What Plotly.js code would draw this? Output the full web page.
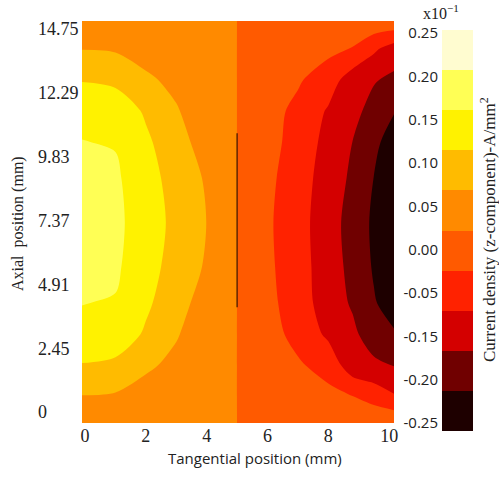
<!DOCTYPE html>
<html><head><meta charset="utf-8">
<script src="https://cdn.plot.ly/plotly-3.0.1.min.js"></script>
<style>html,body{margin:0;padding:0;background:#fff}#chart{width:499px;height:477px}</style>
</head><body><div id="chart"></div>
<script>
// Tangential grid positions (mm): left conductor half and right conductor half
const tangentialLeft = [-0.1, 1, 2, 3, 4, 4.98];
const tangentialRight = [5.02, 6, 7, 8, 8.8, 9.5, 10.16];
// Axial grid positions (mm)
const axialPos = [-0.42, 0.6, 1.8, 3.0, 4.2, 5.6, 7.3, 9.0, 10.4, 11.6, 12.8, 14.0, 15.06];
// Current density (x10^-1 A/mm^2), rows follow axialPos
const densityLeft = [
  [0.025, 0.022, 0.016, 0.011, 0.006, 0.004],
  [0.048, 0.044, 0.030, 0.020, 0.010, 0.007],
  [0.097, 0.090, 0.058, 0.038, 0.015, 0.010],
  [0.138, 0.128, 0.094, 0.054, 0.020, 0.012],
  [0.151, 0.147, 0.108, 0.072, 0.025, 0.015],
  [0.185, 0.158, 0.117, 0.083, 0.044, 0.028],
  [0.190, 0.162, 0.123, 0.088, 0.0495, 0.030],
  [0.185, 0.158, 0.117, 0.083, 0.044, 0.028],
  [0.151, 0.147, 0.108, 0.072, 0.025, 0.015],
  [0.138, 0.128, 0.094, 0.054, 0.020, 0.012],
  [0.097, 0.090, 0.058, 0.038, 0.015, 0.010],
  [0.048, 0.044, 0.030, 0.020, 0.010, 0.007],
  [0.025, 0.022, 0.016, 0.011, 0.006, 0.004]
];
const densityRight = [
  [-0.005, -0.008, -0.010, -0.012, -0.012, -0.008, -0.008],
  [-0.012, -0.018, -0.026, -0.038, -0.049, -0.070, -0.095],
  [-0.017, -0.027, -0.0445, -0.0665, -0.1303, -0.140, -0.1516],
  [-0.020, -0.033, -0.0634, -0.1097, -0.140, -0.175, -0.195],
  [-0.022, -0.037, -0.074, -0.126, -0.1555, -0.196, -0.222],
  [-0.024, -0.040, -0.080, -0.125, -0.165, -0.205, -0.232],
  [-0.025, -0.042, -0.083, -0.1255, -0.172, -0.208, -0.235],
  [-0.024, -0.039, -0.0757, -0.1243, -0.1586, -0.201, -0.228],
  [-0.022, -0.036, -0.0652, -0.1179, -0.1505, -0.188, -0.224],
  [-0.020, -0.033, -0.0613, -0.1053, -0.135, -0.1678, -0.197],
  [-0.017, -0.027, -0.0444, -0.075, -0.1263, -0.146, -0.1607],
  [-0.013, -0.020, -0.028, -0.038, -0.052, -0.091, -0.122],
  [-0.006, -0.010, -0.013, -0.017, -0.020, -0.013, -0.013]
];
// Contour levels and band colours (lowest band first)
const levelStart = -0.25, levelEnd = 0.25, levelStep = 0.05;
const bandColors = ['#1e0000', '#700000', '#d40000', '#ff2200', '#ff5a00',
                    '#ff8a00', '#ffbb00', '#fff200', '#ffff55', '#fffcd0'];
// Tick labels
const xTickVals = [0, 2, 4, 6, 8, 10];
const yTickVals = [0, 2.45, 4.91, 7.37, 9.83, 12.29, 14.75];
const yTickText = ['0', '2.45', '4.91', '7.37', '9.83', '12.29', '14.75'];
const cbTickText = ['0.25', '0.20', '0.15', '0.10', '0.05', '0.00', '-0.05', '-0.15', '-0.20', '-0.25'];
// Interface line between the two halves
const boundaryX = [5.0, 5.0];
const boundaryY = [4.04, 10.74];

const W = 499, H = 477;
const px = v => v / W, py = v => 1 - v / H;

const xGrid = tangentialLeft.concat(tangentialRight);
const zGrid = densityLeft.map((row, i) => row.concat(densityRight[i]));

const nLevels = Math.round((levelEnd - levelStart) / levelStep) + 1; // 11
const colorscale = [[0, bandColors[0]]];
bandColors.forEach((c, k) => {
  colorscale.push([(k + 0.5) / nLevels, c]);
  colorscale.push([(k + 1.5) / nLevels, c]);
});
colorscale.push([1, bandColors[bandColors.length - 1]]);

const bandMids = bandColors.map((c, k) => levelStart + levelStep * (k + 0.5));

const serif = 'Liberation Serif, Times New Roman, serif';
const sans = 'Open Sans, Liberation Sans, sans-serif';
const txt = '#222';

// colorbar tick positions (evenly spread labels)
const cbTop = 0.2463, cbBot = -0.2401;
const cbTickVals = cbTickText.map((t, i) => cbTop - i * (cbTop - cbBot) / (cbTickText.length - 1));

const traces = [
  {
    type: 'contour', x: xGrid, y: axialPos, z: zGrid,
    autocontour: false,
    contours: {start: levelStart, end: levelEnd, size: levelStep, coloring: 'fill', showlines: false},
    line: {width: 0, smoothing: 0.85},
    colorscale: colorscale, showscale: false, hoverinfo: 'skip',
    xaxis: 'x', yaxis: 'y'
  },
  {
    type: 'heatmap', x: [0], y: bandMids, z: bandMids.map(m => [m]),
    zmin: levelStart - levelStep / 2, zmax: levelEnd + levelStep / 2,
    colorscale: colorscale, showscale: false, hoverinfo: 'skip',
    xaxis: 'x2', yaxis: 'y2'
  },
  {
    type: 'scatter', mode: 'lines', x: boundaryX, y: boundaryY,
    line: {color: '#3a1500', width: 1.2}, hoverinfo: 'skip', showlegend: false,
    xaxis: 'x', yaxis: 'y3'
  }
];

const layout = {
  width: W, height: H,
  margin: {l: 0, r: 0, t: 0, b: 0},
  paper_bgcolor: '#fff', plot_bgcolor: '#fff',
  showlegend: false,
  xaxis: {domain: [px(82), px(394)], range: [-0.1, 10.16], anchor: 'y',
          tickvals: xTickVals, ticks: '', showgrid: false, zeroline: false, showline: false,
          tickfont: {family: serif, size: 18, color: txt}},
  yaxis: {domain: [py(423), py(21)], range: [-0.42, 15.06], anchor: 'x',
          showticklabels: false, ticks: '', showgrid: false, zeroline: false, showline: false},
  yaxis3: {overlaying: 'y', anchor: 'free', side: 'right', position: px(37),
           range: [-0.42, 15.06], tickvals: yTickVals, ticktext: yTickText, ticks: '',
           showgrid: false, zeroline: false, showline: false,
           tickfont: {family: serif, size: 18, color: txt}},
  xaxis2: {domain: [px(442), px(473)], range: [-0.5, 0.5], anchor: 'y2', visible: false},
  yaxis2: {domain: [py(431), py(30)], range: [levelStart, levelEnd], anchor: 'x2', side: 'left',
           tickvals: cbTickVals, ticktext: cbTickText, ticks: '', ticklabelstandoff: 3,
           showgrid: false, zeroline: false, showline: false,
           tickfont: {family: sans, size: 15, color: txt}},
  annotations: [
    {text: 'Tangential position (mm)', xref: 'paper', yref: 'paper', x: px(255), y: py(458),
     showarrow: false, xanchor: 'center', yanchor: 'middle', font: {family: sans, size: 15, color: txt}},
    {text: 'Axial\u00a0 position (mm)', xref: 'paper', yref: 'paper', x: px(18), y: py(224),
     textangle: -90, showarrow: false, xanchor: 'center', yanchor: 'middle',
     font: {family: serif, size: 16, color: txt}},
    {text: 'x10<sup>\u22121</sup>', xref: 'paper', yref: 'paper', x: px(441), y: py(12),
     showarrow: false, xanchor: 'center', yanchor: 'middle', font: {family: serif, size: 16, color: txt}},
    {text: 'Current density (z-component)-A/mm<sup>2</sup>', xref: 'paper', yref: 'paper',
     x: px(488), y: py(230), textangle: -90, showarrow: false, xanchor: 'center', yanchor: 'middle',
     font: {family: serif, size: 17, color: txt}}
  ]
};

Plotly.newPlot('chart', traces, layout, {displayModeBar: false, staticPlot: true});
</script></body></html>
